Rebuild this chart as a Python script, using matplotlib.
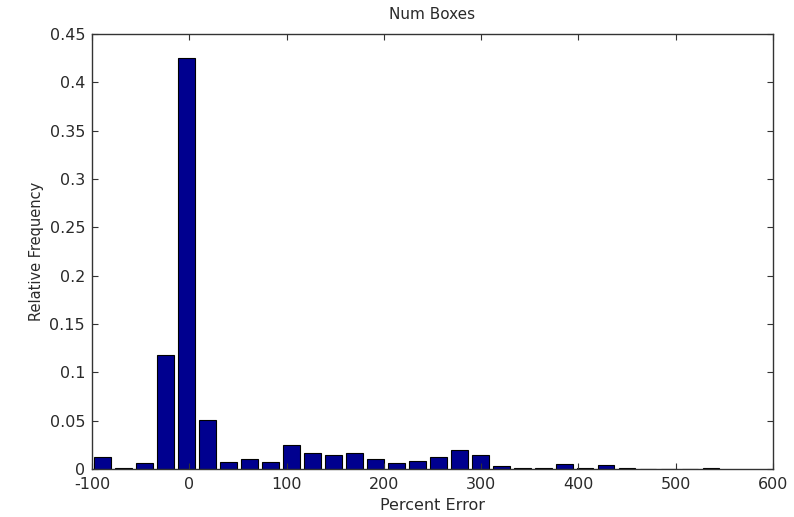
import matplotlib
matplotlib.use("Agg")
import matplotlib.pyplot as plt
import numpy as np

# Histogram: 30 bins spanning the observed percent-error range
bin_min = -100.0
bin_max = 547.0
n_bins = 30
rel_freq = [0.012, 0.001, 0.006, 0.118, 0.425, 0.051, 0.007, 0.010, 0.007, 0.025,
            0.017, 0.014, 0.017, 0.010, 0.006, 0.0086, 0.012, 0.020, 0.015, 0.0035,
            0.001, 0.001, 0.005, 0.001, 0.004, 0.0015, 0.0, 0.0, 0.0, 0.0015]
x_ticks = [-100, 0, 100, 200, 300, 400, 500, 600]
y_ticks = [0, 0.05, 0.1, 0.15, 0.2, 0.25, 0.3, 0.35, 0.4, 0.45]
y_ticklabels = ["0", "0.05", "0.1", "0.15", "0.2", "0.25", "0.3", "0.35", "0.4", "0.45"]

width = (bin_max - bin_min) / n_bins
centers = bin_min + width / 2 + width * np.arange(n_bins)

plt.rcParams['font.family'] = ['DejaVu Sans']
txt_color = '#2a2a2a'
fig = plt.figure(figsize=(7.94, 5.17), dpi=100)
ax = fig.add_axes([0.1159, 0.0928, 0.9736 - 0.1159, 0.934 - 0.0928])

ax.bar(centers, rel_freq, width=width * 0.8, color='#00008F', edgecolor='black', linewidth=0.8)

ax.set_xlim(-100, 600)
ax.set_ylim(0, 0.45)
ax.set_xticks(x_ticks)
ax.set_xticklabels([str(v) for v in x_ticks])
ax.set_yticks(y_ticks)
ax.set_yticklabels(y_ticklabels)
ax.tick_params(direction='in', top=True, right=True, length=4, labelsize=11.5,
               color='#333333', labelcolor=txt_color)
ax.tick_params(axis='x', pad=6)
ax.tick_params(axis='y', pad=5)
for s in ax.spines.values():
    s.set_color('#333333')
    s.set_linewidth(1.0)

ax.set_title("Num Boxes", fontsize=11, pad=11, color=txt_color)
ax.set_xlabel("Percent Error", fontsize=11.5, labelpad=4, color=txt_color)
ax.set_ylabel("Relative Frequency", fontsize=10.5, labelpad=4, color=txt_color)

fig.savefig("out.png", dpi=100)
